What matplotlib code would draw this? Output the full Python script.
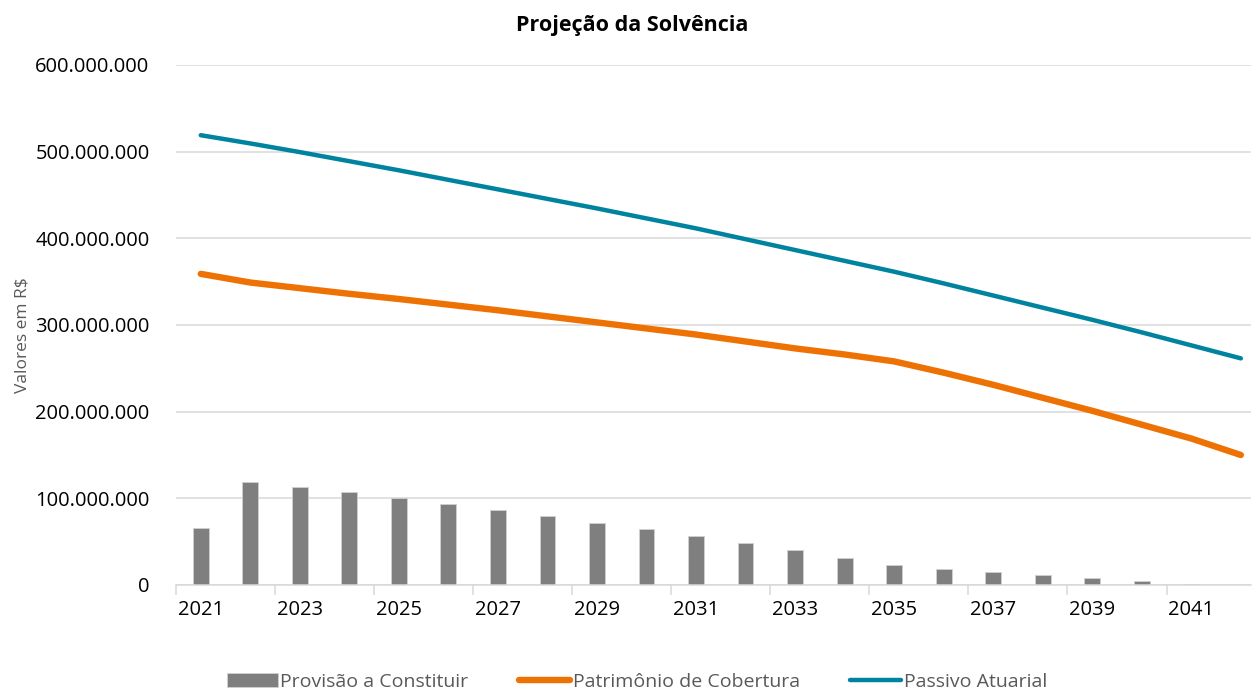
import matplotlib
matplotlib.use("Agg")
import matplotlib.pyplot as plt
import matplotlib.ticker as mticker
import numpy as np

years = list(range(2021, 2043))
provisao = [66.1, 119.1, 113.2, 107.0, 100.4, 93.4, 86.8, 79.4, 72.0, 64.6, 56.4,
            48.6, 40.5, 31.5, 23.3, 18.3, 14.8, 11.3, 7.8, 4.3, 1.2, 0.0]
patrimonio = [359, 349, 342.5, 336, 330, 323.5, 317, 310, 303, 296, 289,
              281, 273, 266, 258, 245, 231, 216, 201, 185, 169, 150]
passivo = [519, 509.5, 499.5, 489, 478.5, 467.5, 456.5, 445.5, 434.5, 423, 411.5,
           399, 386.5, 374, 361.5, 348, 334, 320, 306, 291.5, 276.5, 261.5]
labels = ["Provisão a Constituir", "Patrimônio de Cobertura", "Passivo Atuarial"]

plt.rcParams['font.family'] = ['Open Sans', 'DejaVu Sans']

fig = plt.figure(figsize=(12.52, 6.9), dpi=100)
ax = fig.add_axes([176/1252, 105/690, 1 - 176/1252 - 0.001, 520/690])

x = np.arange(len(years))
scale = 1e6
b = ax.bar(x, np.array(provisao) * scale, width=0.32, color="#7f7f7f",
           edgecolor="#d0d0d0", linewidth=0.6, label=labels[0], zorder=2)
l1, = ax.plot(x, np.array(patrimonio) * scale, color="#ee7203", lw=4.6,
              solid_capstyle='round', solid_joinstyle='round', label=labels[1], zorder=3)
l2, = ax.plot(x, np.array(passivo) * scale, color="#00839f", lw=3.2,
              solid_capstyle='round', solid_joinstyle='round', label=labels[2], zorder=3)

ax.set_ylim(0, 600e6)
ax.set_xlim(-0.5, 21.2)
ax.yaxis.set_major_locator(mticker.MultipleLocator(100e6))
ax.yaxis.set_major_formatter(mticker.FuncFormatter(
    lambda v, p: "0" if v == 0 else f"{int(round(v)):,}".replace(",", ".")))
ax.grid(axis='y', color="#d9d9d9", lw=1.1, zorder=0)
ax.set_axisbelow(True)

ax.set_xticks(x[::2])
ax.set_xticklabels([str(y) for y in years[::2]])
ax.set_xticks(np.arange(-0.5, 21.5, 2), minor=True)
ax.tick_params(axis='x', which='major', length=0, pad=11, labelsize=14.5)
ax.tick_params(axis='x', which='minor', length=7, color="#d9d9d9", width=1.1)
ax.tick_params(axis='y', length=0, pad=19, labelsize=14.5)

for s in ['top', 'right', 'left']:
    ax.spines[s].set_visible(False)
ax.spines['bottom'].set_color("#d9d9d9")
ax.spines['bottom'].set_linewidth(1.1)

ax.set_ylabel("Valores em R$", color="#595959", fontsize=12.5, labelpad=14)
ax.yaxis.set_label_coords(-0.135, 0.48)

fig.text(632/1252, 1 - 26/690, "Projeção da Solvência", ha='center', va='center',
         fontsize=15.5, fontweight='bold')

leg = fig.legend(handles=[b, l1, l2], labels=labels, loc='center',
                 bbox_to_anchor=(637/1252, 1 - 682/690), ncol=3,
                 frameon=False, fontsize=14, handlelength=2.6, handletextpad=0.15,
                 columnspacing=2.6, labelcolor="#595959")

fig.savefig("out.png", dpi=100)
